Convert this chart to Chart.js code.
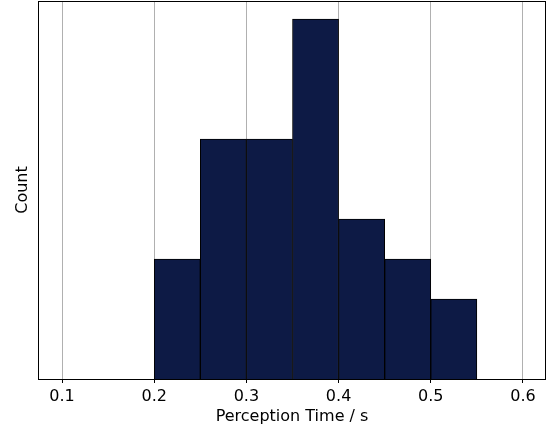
<!DOCTYPE html>
<html>
<head>
<meta charset="utf-8">
<script src="https://cdn.jsdelivr.net/npm/chart.js@4.4.1/dist/chart.umd.min.js"></script>
<style>
html,body{margin:0;padding:0;background:#fff;}
#wrap{width:553px;height:431px;}
</style>
</head>
<body>
<div id="wrap"><canvas id="c" width="553" height="431"></canvas></div>
<script>
// Histogram bins (left edges), width 0.05
const binStarts = [0.20, 0.25, 0.30, 0.35, 0.40, 0.45, 0.50];
const binWidth = 0.05;
const counts = [3, 6, 6, 9, 4, 3, 2];
const xTickLabels = [0.1, 0.2, 0.3, 0.4, 0.5, 0.6];
const xMin = 0.0739, xMax = 0.6250;
const yMax = 9.45;

const data = binStarts.map((s, i) => ({x: s + binWidth / 2, y: counts[i]}));

const FONT = "'DejaVu Sans', sans-serif";

const framePlugin = {
  id: 'frame',
  afterDraw(chart) {
    const a = chart.chartArea, ctx = chart.ctx;
    ctx.save();
    ctx.strokeStyle = '#000';
    ctx.lineWidth = 1;
    ctx.strokeRect(Math.round(a.left) + 0.5, Math.round(a.top) + 0.5,
                   Math.round(a.right - a.left) - 1, Math.round(a.bottom - a.top));
    ctx.restore();
  }
};

new Chart(document.getElementById('c'), {
  type: 'bar',
  data: {
    datasets: [{
      data: data,
      backgroundColor: '#0d1a45',
      borderColor: '#000000',
      borderWidth: 1,
      barPercentage: 1.0,
      categoryPercentage: 1.0,
      grouped: false
    }]
  },
  options: {
    responsive: false,
    animation: false,
    devicePixelRatio: 1,
    layout: {padding: {top: 1, right: 7, left: 0, bottom: 0}},
    plugins: {legend: {display: false}, tooltip: {enabled: false}},
    scales: {
      x: {
        type: 'linear',
        min: xMin,
        max: xMax,
        offset: false,
        z: 1,
        afterBuildTicks(scale) { scale.ticks = xTickLabels.map(v => ({value: v})); },
        afterFit(scale) { scale.height = 52; },
        ticks: {
          color: '#000',
          font: {family: FONT, size: 16},
          padding: 4,
          maxRotation: 0,
          callback: v => v.toFixed(1)
        },
        grid: {offset: false, color: '#b0b0b0', lineWidth: 1, tickColor: '#000', tickLength: 4, drawTicks: true},
        border: {display: false},
        title: {display: true, text: 'Perception Time / s', color: '#000',
                font: {family: FONT, size: 16}, padding: {top: 0, bottom: 5}}
      },
      y: {
        min: 0,
        max: yMax,
        ticks: {display: false},
        grid: {display: false, drawTicks: false},
        border: {display: false},
        afterFit(scale) { scale.width = 38; },
        title: {display: true, text: 'Count', color: '#000',
                font: {family: FONT, size: 16}, padding: {top: 13, bottom: 0}}
      }
    }
  },
  plugins: [framePlugin]
});
</script>
</body>
</html>
